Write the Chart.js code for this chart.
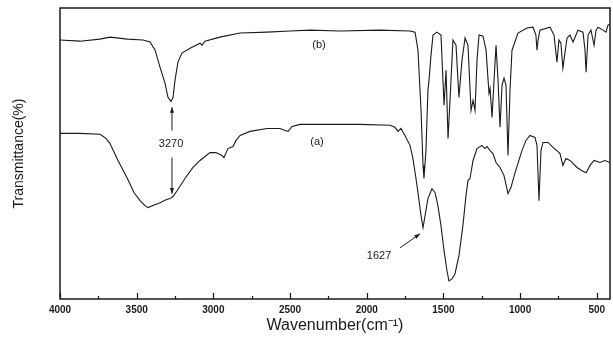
<!DOCTYPE html>
<html>
<head>
<meta charset="utf-8">
<script src="https://cdn.jsdelivr.net/npm/chart.js@4/dist/chart.umd.min.js"></script>
<style>
  body { margin: 0; background: #fff; }
  #wrap { width: 613px; height: 343px; }
</style>
</head>
<body>
<div id="wrap"><canvas id="irChart"></canvas></div>
<script>
// spectrum (b)
const waveB = [4000, 3870, 3740, 3674, 3560, 3459, 3413, 3380, 3348, 3315, 3296, 3276, 3263, 3250, 3231, 3205, 3152, 3087, 3074, 3055, 2957, 2826, 2650, 2500, 2370, 2174, 1914, 1718, 1685, 1666, 1646, 1633, 1627, 1614, 1601, 1594, 1581, 1568, 1542, 1516, 1496, 1483, 1470, 1457, 1438, 1418, 1399, 1379, 1359, 1340, 1320, 1307, 1294, 1281, 1268, 1242, 1222, 1203, 1196, 1183, 1170, 1157, 1144, 1131, 1118, 1105, 1092, 1079, 1066, 1053, 1014, 955, 916, 897, 890, 884, 871, 805, 779, 760, 747, 734, 721, 708, 694, 675, 655, 636, 623, 590, 577, 570, 557, 538, 518, 505, 492, 460, 440, 427, 414];
const transB = [89.0, 88.6, 89.3, 90.0, 89.3, 89.0, 88.3, 85.5, 79.7, 74.1, 69.3, 67.9, 69.3, 75.2, 81.4, 84.5, 86.2, 87.9, 87.2, 88.6, 90.0, 91.4, 91.7, 92.1, 92.4, 92.1, 92.4, 92.1, 91.7, 85.5, 64.8, 45.9, 41.4, 51.0, 71.7, 75.2, 83.8, 90.7, 91.7, 90.7, 66.6, 78.6, 55.2, 68.3, 89.0, 87.2, 69.3, 82.1, 89.7, 87.2, 64.8, 68.3, 64.8, 82.1, 90.7, 90.3, 85.5, 70.7, 72.4, 62.4, 75.2, 87.2, 75.2, 59.0, 73.4, 75.9, 73.4, 49.3, 71.7, 85.5, 91.4, 93.1, 93.4, 90.7, 85.5, 88.6, 92.4, 93.4, 90.7, 81.4, 89.0, 87.9, 79.3, 84.5, 89.7, 90.7, 88.3, 90.7, 92.4, 91.7, 85.5, 77.9, 90.7, 92.4, 87.2, 92.4, 93.4, 92.4, 91.7, 94.1, 94.5];

// spectrum (a)
const waveA = [4000, 3870, 3739, 3700, 3674, 3622, 3563, 3518, 3478, 3446, 3426, 3394, 3348, 3309, 3283, 3263, 3237, 3185, 3133, 3087, 3022, 2983, 2944, 2931, 2905, 2872, 2852, 2826, 2761, 2650, 2566, 2533, 2513, 2487, 2435, 2240, 2044, 1848, 1816, 1796, 1777, 1751, 1718, 1699, 1679, 1659, 1646, 1633, 1620, 1601, 1575, 1555, 1536, 1516, 1496, 1477, 1464, 1444, 1425, 1399, 1373, 1353, 1340, 1327, 1307, 1281, 1249, 1229, 1216, 1196, 1177, 1157, 1131, 1105, 1079, 1060, 1033, 1014, 988, 962, 936, 903, 890, 877, 864, 851, 818, 786, 760, 740, 721, 701, 675, 629, 597, 570, 544, 518, 479, 447, 414];
const transA = [56.9, 56.9, 56.6, 55.2, 53.4, 47.6, 41.7, 36.6, 33.8, 32.1, 31.4, 32.1, 33.1, 34.1, 34.5, 35.2, 37.2, 41.4, 45.2, 47.6, 50.3, 50.3, 49.3, 48.6, 51.7, 52.4, 54.5, 56.2, 57.6, 58.6, 58.6, 57.9, 57.6, 59.3, 60.0, 60.0, 60.0, 59.7, 59.0, 57.6, 58.6, 56.2, 52.8, 48.3, 41.4, 33.8, 28.6, 24.5, 28.6, 34.5, 37.9, 36.6, 32.1, 25.2, 16.6, 9.7, 6.2, 6.9, 8.6, 14.8, 25.2, 35.5, 40.7, 41.4, 47.6, 51.7, 52.8, 51.7, 52.4, 51.0, 50.0, 46.9, 45.2, 42.4, 36.2, 38.3, 43.4, 46.6, 51.0, 54.5, 56.2, 55.5, 52.8, 33.8, 51.0, 53.8, 53.8, 52.1, 51.0, 50.0, 45.9, 48.3, 47.6, 45.2, 44.1, 43.4, 45.9, 47.6, 46.9, 47.6, 46.9];

// axis ticks
const majorTicks = [4000, 3500, 3000, 2500, 2000, 1500, 1000, 500];
const minorTicks = [3750, 3250, 2750, 2250, 1750, 1250, 750];

// text labels and arrows (in data units)
const noteText = ['3270', '1627', '(a)', '(b)'];
const noteWave = [3276, 1920, 2324, 2311];
const noteTrans = [53.4, 14.8, 53.8, 87.2];
const arrowWaveFrom = [3270, 3270, 1783];
const arrowTransFrom = [57.9, 48.6, 17.6];
const arrowWaveTo = [3270, 3270, 1653];
const arrowTransTo = [65.9, 36.2, 22.4];

const FONT = "'Liberation Sans', Arial, sans-serif";
const INK = '#1a1a1a';

function toPoints(xs, ys) {
  return xs.map((x, i) => ({ x: x, y: ys[i] }));
}

const extrasPlugin = {
  id: 'extras',
  afterDatasetsDraw(chart) {
    const ctx = chart.ctx;
    const area = chart.chartArea;
    const xs = chart.scales.x;
    const ys = chart.scales.y;
    ctx.save();

    // frame
    ctx.strokeStyle = INK;
    ctx.lineWidth = 1.5;
    ctx.strokeRect(area.left, area.top, area.right - area.left, area.bottom - area.top);

    // inward ticks
    ctx.lineWidth = 1.2;
    ctx.beginPath();
    majorTicks.forEach(v => {
      const px = Math.round(xs.getPixelForValue(v)) + 0.5;
      ctx.moveTo(px, area.bottom);
      ctx.lineTo(px, area.bottom - 6);
    });
    minorTicks.forEach(v => {
      const px = Math.round(xs.getPixelForValue(v)) + 0.5;
      ctx.moveTo(px, area.bottom);
      ctx.lineTo(px, area.bottom - 3);
    });
    ctx.stroke();

    // labels
    ctx.fillStyle = INK;
    ctx.font = '11px ' + FONT;
    ctx.textAlign = 'center';
    ctx.textBaseline = 'middle';
    noteText.forEach((t, i) => {
      ctx.fillText(t, xs.getPixelForValue(noteWave[i]), ys.getPixelForValue(noteTrans[i]));
    });

    // arrows
    ctx.lineWidth = 1;
    arrowWaveFrom.forEach((w, i) => {
      const x0 = xs.getPixelForValue(w);
      const y0 = ys.getPixelForValue(arrowTransFrom[i]);
      const x1 = xs.getPixelForValue(arrowWaveTo[i]);
      const y1 = ys.getPixelForValue(arrowTransTo[i]);
      const ang = Math.atan2(y1 - y0, x1 - x0);
      ctx.beginPath();
      ctx.moveTo(x0, y0);
      ctx.lineTo(x1, y1);
      ctx.stroke();
      ctx.beginPath();
      ctx.moveTo(x1, y1);
      ctx.lineTo(x1 - 6 * Math.cos(ang - 0.35), y1 - 6 * Math.sin(ang - 0.35));
      ctx.lineTo(x1 - 6 * Math.cos(ang + 0.35), y1 - 6 * Math.sin(ang + 0.35));
      ctx.closePath();
      ctx.fill();
    });
    ctx.restore();
  }
};

new Chart(document.getElementById('irChart').getContext('2d'), {
  type: 'line',
  data: {
    datasets: [
      { label: '(b)', data: toPoints(waveB, transB), borderColor: INK, borderWidth: 1.1, pointRadius: 0, tension: 0 },
      { label: '(a)', data: toPoints(waveA, transA), borderColor: INK, borderWidth: 1.1, pointRadius: 0, tension: 0 }
    ]
  },
  options: {
    responsive: true,
    maintainAspectRatio: false,
    animation: false,
    layout: { padding: { top: 8, right: 3, bottom: 0, left: 0 } },
    plugins: { legend: { display: false }, tooltip: { enabled: false } },
    scales: {
      x: {
        type: 'linear',
        reverse: true,
        min: 414,
        max: 4000,
        afterBuildTicks: s => { s.ticks = majorTicks.map(v => ({ value: v })); },
        afterFit: s => { s.height = 44; },
        grid: { display: false, drawTicks: false },
        border: { display: false },
        ticks: {
          padding: 5,
          autoSkip: false,
          maxRotation: 0,
          color: INK,
          font: { family: FONT, size: 10, weight: 'bold' },
          callback: v => String(v)
        },
        title: {
          display: true,
          text: 'Wavenumber(cm\u207B\u00B9)',
          color: INK,
          font: { family: FONT, size: 16 },
          padding: { top: 0, bottom: 8 }
        }
      },
      y: {
        min: 0,
        max: 100,
        afterFit: s => { s.width = 60; },
        grid: { display: false, drawTicks: false },
        border: { display: false },
        ticks: { display: false },
        title: {
          display: true,
          text: 'Transmittance(%)',
          color: INK,
          font: { family: FONT, size: 14 },
          padding: { top: 11 }
        }
      }
    }
  },
  plugins: [extrasPlugin]
});
</script>
</body>
</html>
